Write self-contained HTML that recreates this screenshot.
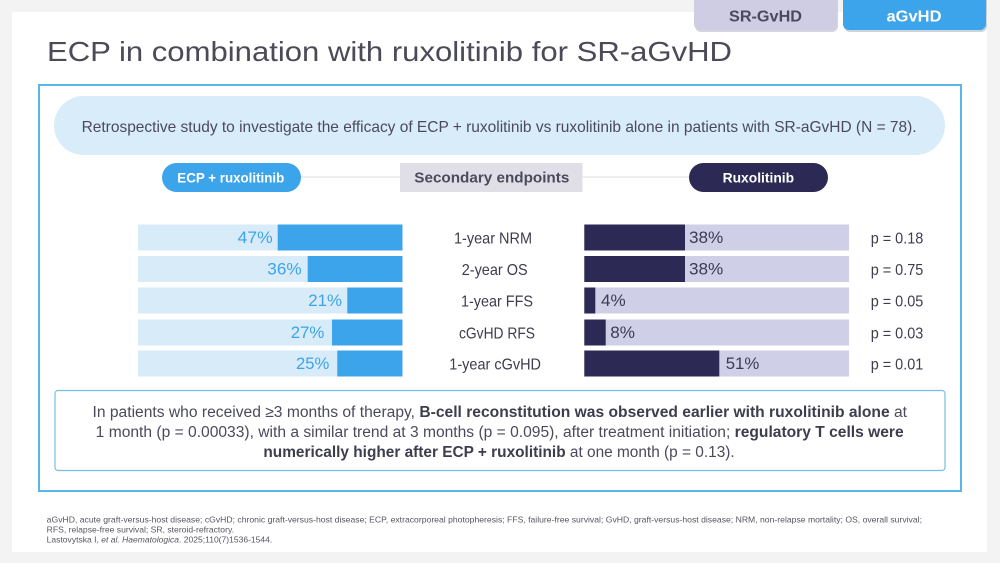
<!DOCTYPE html>
<html><head><meta charset="utf-8"><style>
html,body{margin:0;padding:0;background:#f3f3f3;}
svg{display:block;font-family:"Liberation Sans",sans-serif;}
</style></head><body>
<svg width="1000" height="563" viewBox="0 0 1000 563" xmlns="http://www.w3.org/2000/svg">
<rect x="0" y="0" width="1000" height="563" fill="#f3f3f3"/>
<rect x="12" y="12" width="975" height="540" fill="#ffffff"/>

<!-- tabs -->
<rect x="695" y="-8" width="143" height="40" rx="6" fill="#b9b9c6" opacity="0.6"/>
<rect x="694" y="-10" width="143" height="40" rx="6" fill="#cfcde3"/>
<text x="729" y="21.5" font-size="16" font-weight="bold" fill="#4a4a5c" textLength="73" lengthAdjust="spacingAndGlyphs">SR-GvHD</text>
<rect x="844" y="-8" width="143" height="40" rx="6" fill="#9aa8b8" opacity="0.5"/>
<rect x="843" y="-10" width="143" height="40" rx="6" fill="#3ba4ea"/>
<text x="886.5" y="21.5" font-size="16" font-weight="bold" fill="#ffffff" textLength="55" lengthAdjust="spacingAndGlyphs">aGvHD</text>

<!-- title -->
<text x="47" y="61" font-size="28" fill="#4b4a57" textLength="685" lengthAdjust="spacingAndGlyphs">ECP in combination with ruxolitinib for SR-aGvHD</text>

<!-- blue box -->
<rect x="39" y="85" width="922" height="406" fill="none" stroke="#5cb4ec" stroke-width="2"/>

<!-- intro pill -->
<rect x="54" y="96" width="891" height="59" rx="29.5" fill="#d9ecf9"/>
<text x="81.6" y="132" font-size="16" fill="#4a4a5a" textLength="835" lengthAdjust="spacingAndGlyphs">Retrospective study to investigate the efficacy of ECP + ruxolitinib vs ruxolitinib alone in patients with SR-aGvHD (N = 78).</text>

<!-- header row -->
<line x1="300" y1="177" x2="400" y2="177" stroke="#e8e8e8" stroke-width="1.5"/>
<line x1="582" y1="177" x2="689" y2="177" stroke="#e8e8e8" stroke-width="1.5"/>
<rect x="162" y="163" width="139" height="29" rx="14.5" fill="#3ba4ea"/>
<text x="177.3" y="182.7" font-size="14" font-weight="bold" fill="#ffffff" textLength="107" lengthAdjust="spacingAndGlyphs">ECP + ruxolitinib</text>
<rect x="400" y="163" width="182.5" height="29" fill="#e0dfe7"/>
<text x="414.3" y="182.7" font-size="15" font-weight="bold" fill="#4b4a5c" textLength="155" lengthAdjust="spacingAndGlyphs">Secondary endpoints</text>
<rect x="689" y="163" width="139" height="29" rx="14.5" fill="#2c2a55"/>
<text x="722.6" y="182.7" font-size="14" font-weight="bold" fill="#ffffff" textLength="71.5" lengthAdjust="spacingAndGlyphs">Ruxolitinib</text>

<!-- left bars -->
<g fill="#d7ebf9">
<rect x="138" y="224.5" width="264.5" height="26"/>
<rect x="138" y="256" width="264.5" height="26"/>
<rect x="138" y="287.5" width="264.5" height="26"/>
<rect x="138" y="319.5" width="264.5" height="26"/>
<rect x="138" y="350.5" width="264.5" height="26"/>
</g>
<g fill="#3ba4ea">
<rect x="277.7" y="224.5" width="124.8" height="26"/>
<rect x="307.7" y="256" width="94.8" height="26"/>
<rect x="347.3" y="287.5" width="55.2" height="26"/>
<rect x="332" y="319.5" width="70.5" height="26"/>
<rect x="337.3" y="350.5" width="65.2" height="26"/>
</g>
<g font-size="17" fill="#3ba4ea">
<text x="237.7" y="243" textLength="35" lengthAdjust="spacingAndGlyphs">47%</text>
<text x="267.3" y="274.5" textLength="34.4" lengthAdjust="spacingAndGlyphs">36%</text>
<text x="308.3" y="306" textLength="33.7" lengthAdjust="spacingAndGlyphs">21%</text>
<text x="290.7" y="338" textLength="33.6" lengthAdjust="spacingAndGlyphs">27%</text>
<text x="296" y="369" textLength="33.3" lengthAdjust="spacingAndGlyphs">25%</text>
</g>

<!-- center labels -->
<g font-size="16" fill="#3d3d4d">
<text x="454" y="243.3" textLength="78" lengthAdjust="spacingAndGlyphs">1-year NRM</text>
<text x="461.7" y="274.8" textLength="66" lengthAdjust="spacingAndGlyphs">2-year OS</text>
<text x="461" y="306.3" textLength="72" lengthAdjust="spacingAndGlyphs">1-year FFS</text>
<text x="459" y="338.3" textLength="76" lengthAdjust="spacingAndGlyphs">cGvHD RFS</text>
<text x="449.3" y="369.3" textLength="91.7" lengthAdjust="spacingAndGlyphs">1-year cGvHD</text>
</g>

<!-- right bars -->
<g fill="#cfcfe7">
<rect x="584.3" y="224.5" width="264.7" height="26"/>
<rect x="584.3" y="256" width="264.7" height="26"/>
<rect x="584.3" y="287.5" width="264.7" height="26"/>
<rect x="584.3" y="319.5" width="264.7" height="26"/>
<rect x="584.3" y="350.5" width="264.7" height="26"/>
</g>
<g fill="#2c2a55">
<rect x="584.3" y="224.5" width="100.7" height="26"/>
<rect x="584.3" y="256" width="100.7" height="26"/>
<rect x="584.3" y="287.5" width="11" height="26"/>
<rect x="584.3" y="319.5" width="21.4" height="26"/>
<rect x="584.3" y="350.5" width="135" height="26"/>
</g>
<g font-size="17" fill="#3c3b55">
<text x="689" y="243" textLength="34.3" lengthAdjust="spacingAndGlyphs">38%</text>
<text x="689" y="274.5" textLength="34.3" lengthAdjust="spacingAndGlyphs">38%</text>
<text x="601" y="306" textLength="24.7" lengthAdjust="spacingAndGlyphs">4%</text>
<text x="610.3" y="338" textLength="24.7" lengthAdjust="spacingAndGlyphs">8%</text>
<text x="725.7" y="369" textLength="33.6" lengthAdjust="spacingAndGlyphs">51%</text>
</g>

<!-- p values -->
<g font-size="16" fill="#3d3d4d">
<text x="870.7" y="243.3" textLength="52.6" lengthAdjust="spacingAndGlyphs">p = 0.18</text>
<text x="870.7" y="274.8" textLength="52.6" lengthAdjust="spacingAndGlyphs">p = 0.75</text>
<text x="870.7" y="306.3" textLength="52.6" lengthAdjust="spacingAndGlyphs">p = 0.05</text>
<text x="870.7" y="338.3" textLength="52.6" lengthAdjust="spacingAndGlyphs">p = 0.03</text>
<text x="870.7" y="369.3" textLength="52.6" lengthAdjust="spacingAndGlyphs">p = 0.01</text>
</g>

<!-- bottom box -->
<rect x="55" y="390.5" width="890" height="80" rx="3" fill="#ffffff" stroke="#76bde9" stroke-width="1.2"/>
<g font-size="15.5" fill="#4a4a5a">
<text x="92.5" y="417" textLength="814.5" lengthAdjust="spacingAndGlyphs">In patients who received ≥3 months of therapy, <tspan font-weight="bold" fill="#3d3d4d">B-cell reconstitution was observed earlier with ruxolitinib alone</tspan> at</text>
<text x="95.7" y="437" textLength="808" lengthAdjust="spacingAndGlyphs">1 month (p = 0.00033), with a similar trend at 3 months (p = 0.095), after treatment initiation; <tspan font-weight="bold" fill="#3d3d4d">regulatory T cells were</tspan></text>
<text x="263.4" y="457" textLength="471.3" lengthAdjust="spacingAndGlyphs"><tspan font-weight="bold" fill="#3d3d4d">numerically higher after ECP + ruxolitinib</tspan> at one month (p = 0.13).</text>
</g>

<!-- footnotes -->
<g font-size="8.5" fill="#555560">
<text x="46.7" y="522.7" textLength="875.3" lengthAdjust="spacingAndGlyphs">aGvHD, acute graft-versus-host disease; cGvHD; chronic graft-versus-host disease; ECP, extracorporeal photopheresis; FFS, failure-free survival; GvHD, graft-versus-host disease; NRM, non-relapse mortality; OS, overall survival;</text>
<text x="46.7" y="532.7" textLength="187.3" lengthAdjust="spacingAndGlyphs">RFS, relapse-free survival; SR, steroid-refractory.</text>
<text x="46.7" y="542.7" textLength="225.6" lengthAdjust="spacingAndGlyphs">Lastovytska I, <tspan font-style="italic">et al. Haematologica</tspan>. 2025;110(7)1536-1544.</text>
</g>
</svg>
</body></html>
